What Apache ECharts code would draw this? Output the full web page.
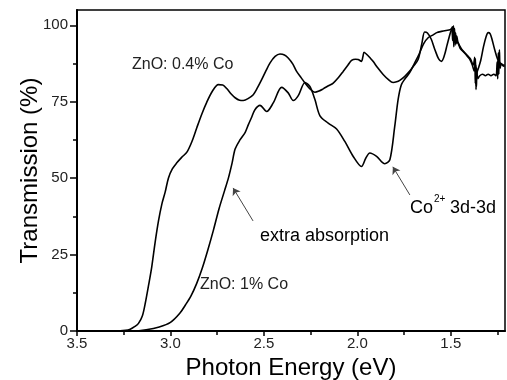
<!DOCTYPE html>
<html>
<head>
<meta charset="utf-8">
<script src="https://cdn.jsdelivr.net/npm/echarts@6/dist/echarts.min.js"></script>
<style>
  html, body { margin: 0; padding: 0; background: #fff; }
  #chart { width: 507px; height: 380px; }
</style>
</head>
<body>
<div id="chart"></div>
<script>
// ZnO: 0.4% Co
const energyLow = [3.5, 3.3, 3.24, 3.215, 3.19, 3.171, 3.15, 3.135, 3.117, 3.1, 3.082, 3.064, 3.046, 3.028, 3.011,
  2.99, 2.966, 2.94, 2.912, 2.885, 2.859, 2.832, 2.806, 2.775, 2.744, 2.72, 2.699, 2.675, 2.654, 2.63, 2.61,
  2.585, 2.557, 2.535, 2.512, 2.49, 2.467, 2.44, 2.414, 2.39, 2.37, 2.345, 2.325, 2.3, 2.28, 2.255, 2.227,
  2.205, 2.183, 2.155, 2.129, 2.1, 2.076, 2.05, 2.031, 2.01, 1.996, 1.978, 1.97, 1.964, 1.945, 1.93, 1.916,
  1.89, 1.862, 1.835, 1.809, 1.79, 1.773, 1.746, 1.72, 1.7, 1.675, 1.655, 1.64, 1.625, 1.605, 1.585, 1.565,
  1.55, 1.535, 1.52, 1.505, 1.497, 1.492, 1.489, 1.486, 1.483, 1.48, 1.477, 1.474, 1.471, 1.468, 1.462,
  1.45, 1.44, 1.425, 1.41, 1.395, 1.38, 1.372, 1.369, 1.366, 1.363, 1.36, 1.352, 1.34, 1.325, 1.31, 1.3,
  1.29, 1.28, 1.265, 1.25, 1.238, 1.225, 1.212];
const transLow = [0, 0, 0.2, 0.6, 1.5, 2.5, 5, 9, 15, 21, 29, 36, 41.5, 45.5, 50,
  53, 55, 56.8, 58.5, 62, 66.5, 71, 74.8, 78.5, 80.6, 80.5, 79.3, 77.5, 76.3, 75.5, 75.4,
  76, 77.3, 79.5, 82.2, 85, 87.7, 89.8, 90.6, 90.3, 89.3, 87.3, 84.9, 82.8, 81.1, 79.3, 78.1,
  78.5, 79.2, 80.2, 81.1, 83, 84.9, 87, 88.5, 88.9, 88.8, 88.2, 89.8, 91.2, 90.2, 89.2, 88.2,
  86, 83.9, 82.3, 81.3, 81.5, 82, 83.3, 85, 86.6, 88.8, 94, 97.8, 97.5, 95.5, 92, 89,
  88.2, 90, 93.5, 97, 98.6, 99.5, 96, 99.8, 94.5, 99, 93.5, 97.5, 94, 96.5, 94.5,
  93, 92, 91, 90, 89, 87, 89.5, 81, 87, 80, 84.5, 86, 88.5, 93, 96.5, 97.6,
  97.3, 95.5, 92, 89, 87.8, 87, 86.5];

// ZnO: 1% Co
const energyHigh = [3.5, 3.2, 3.13, 3.06, 3.0, 2.95, 2.92, 2.89, 2.86, 2.83, 2.8, 2.77, 2.74, 2.71, 2.69,
  2.67, 2.654, 2.628, 2.6, 2.583, 2.565, 2.548, 2.521, 2.485, 2.45, 2.405, 2.37, 2.343, 2.316, 2.28, 2.254,
  2.227, 2.2, 2.156, 2.111, 2.067, 2.022, 1.978, 1.955, 1.933, 1.897, 1.853, 1.826, 1.8, 1.782, 1.765,
  1.745, 1.72, 1.695, 1.67, 1.645, 1.62, 1.596, 1.575, 1.55, 1.525, 1.505, 1.495, 1.49, 1.487, 1.484,
  1.481, 1.478, 1.475, 1.47, 1.46, 1.45, 1.435, 1.42, 1.4, 1.385, 1.375, 1.368, 1.365, 1.362, 1.355,
  1.345, 1.33, 1.315, 1.3, 1.285, 1.27, 1.258, 1.252, 1.249, 1.246, 1.243, 1.24, 1.236, 1.23, 1.22, 1.212];
const transHigh = [0, 0, 0.4, 1.3, 2.8, 5.8, 8.5, 11.5, 15.5, 20.5, 26.5, 33, 40, 46, 50,
  55, 59.5, 62.5, 65, 67.5, 70, 72.4, 73.8, 71.8, 74.6, 79.7, 77.9, 75.4, 77, 81.3, 80,
  75.7, 70.4, 68, 66.1, 62, 57.1, 53.8, 56.5, 58.2, 57.1, 54.7, 56, 66.9, 75.7, 80.5,
  82.5, 84.5, 87.5, 90.5, 94, 96, 96.8, 97.6, 98, 98.3, 98.5, 99, 95, 99.5, 93,
  98, 95, 96.5, 95, 94, 92.5, 91.5, 90.5, 89, 87, 85, 89, 79, 86, 82.5,
  83.5, 84, 83.5, 84, 83.5, 84, 83.5, 88, 82.5, 91, 84, 92, 86, 87.5, 87, 87];

const xTicks = [3.5, 3.0, 2.5, 2.0, 1.5];
const xMinorTicks = [3.25, 2.75, 2.25, 1.75, 1.25];
const yTicks = [0, 25, 50, 75, 100];
const yMinorTicks = [12.5, 37.5, 62.5, 87.5];

const font = 'Liberation Sans';
const zip = (xs, ys) => xs.map((x, i) => [x, ys[i]]);

const chart = echarts.init(document.getElementById('chart'));

const baseX = { type: 'value', inverse: true, min: 1.21, max: 3.5, position: 'bottom', splitLine: { show: false } };
const baseY = { type: 'value', min: 0, max: 105, position: 'left', splitLine: { show: false } };

chart.setOption({
  animation: false,
  grid: {
    left: 77, right: 2, top: 10, bottom: 49,
    show: true, borderColor: '#000', borderWidth: 1.5,
    outerBoundsMode: 'none'
  },
  xAxis: [
    {
      ...baseX,
      name: 'Photon Energy (eV)',
      nameLocation: 'middle',
      nameGap: 25,
      nameMoveOverlap: false,
      nameTextStyle: { fontFamily: font, fontSize: 24, color: '#000', verticalAlign: 'top' },
      axisLine: { onZero: false, lineStyle: { color: '#000', width: 2 } },
      axisTick: { customValues: xTicks, length: 5, lineStyle: { color: '#000', width: 1.5 } },
      axisLabel: {
        customValues: xTicks, color: '#222', fontFamily: font, fontSize: 15, margin: 5,
        formatter: v => v.toFixed(1)
      }
    },
    {
      ...baseX,
      axisLine: { show: false, onZero: false },
      axisTick: { customValues: xMinorTicks, length: 4, lineStyle: { color: '#000', width: 1.5 } },
      axisLabel: { show: false }
    }
  ],
  yAxis: [
    {
      ...baseY,
      name: 'Transmission (%)',
      nameLocation: 'middle',
      nameGap: 35,
      nameMoveOverlap: false,
      nameTextStyle: { fontFamily: font, fontSize: 24, color: '#000' },
      axisLine: { onZero: false, lineStyle: { color: '#000', width: 2 } },
      axisTick: { customValues: yTicks, length: 7, lineStyle: { color: '#000', width: 1.5 } },
      axisLabel: { customValues: yTicks, color: '#222', fontFamily: font, fontSize: 15, margin: 9 }
    },
    {
      ...baseY,
      axisLine: { show: false, onZero: false },
      axisTick: { customValues: yMinorTicks, length: 4, lineStyle: { color: '#000', width: 1.5 } },
      axisLabel: { show: false }
    }
  ],
  series: [
    {
      name: 'ZnO: 0.4% Co',
      type: 'line',
      data: zip(energyLow, transLow),
      showSymbol: false,
      smooth: 0.3,
      lineStyle: { color: '#000', width: 1.6 },
      markLine: {
        silent: true,
        symbol: ['none', 'arrow'],
        symbolSize: 7,
        label: { show: false },
        lineStyle: { color: '#444', width: 1, type: 'solid' },
        itemStyle: { color: '#000' },
        data: [
          [{ coord: [2.558, 36.0] }, { coord: [2.665, 46.8] }],
          [{ coord: [1.719, 44.5] }, { coord: [1.81, 53.7] }]
        ]
      }
    },
    {
      name: 'ZnO: 1% Co',
      type: 'line',
      data: zip(energyHigh, transHigh),
      showSymbol: false,
      smooth: 0.3,
      lineStyle: { color: '#000', width: 1.6 }
    }
  ],
  graphic: [
    { type: 'text', left: 132, top: 57, style: { text: 'ZnO: 0.4% Co', font: '16px "Liberation Sans"', fill: '#222' } },
    { type: 'text', left: 200, top: 277, style: { text: 'ZnO: 1% Co', font: '16px "Liberation Sans"', fill: '#222' } },
    { type: 'text', left: 260, top: 227, style: { text: 'extra absorption', font: '18px "Liberation Sans"', fill: '#000' } },
    { type: 'text', left: 410, top: 199, style: { text: 'Co', font: '18px "Liberation Sans"', fill: '#000' } },
    { type: 'text', left: 434, top: 194, style: { text: '2+', font: '10px "Liberation Sans"', fill: '#000' } },
    { type: 'text', left: 450, top: 199, style: { text: '3d-3d', font: '18px "Liberation Sans"', fill: '#000' } }
  ]
});
</script>
</body>
</html>
